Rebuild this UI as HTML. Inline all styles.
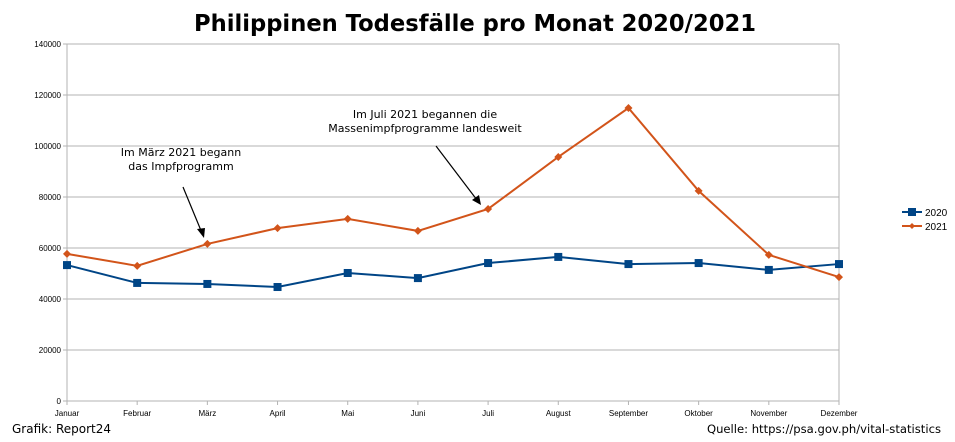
<!DOCTYPE html>
<html><head><meta charset="utf-8"><style>
body{margin:0;background:#fff;width:955px;height:442px;overflow:hidden}
svg{display:block;font-family:"Liberation Sans",sans-serif}
.mono{font-family:"DejaVu Sans","Liberation Sans",sans-serif}
</style></head><body>
<svg id="c" width="955" height="442">
<text class="mono" x="475" y="31" text-anchor="middle" font-size="23" font-weight="bold" textLength="562" lengthAdjust="spacingAndGlyphs">Philippinen Todesfälle pro Monat 2020/2021</text>
<g id="grid"></g><g id="series"></g>
<g>
<text class="mono" x="181" y="156" text-anchor="middle" font-size="11">Im März 2021 begann</text>
<text class="mono" x="181" y="170" text-anchor="middle" font-size="11">das Impfprogramm</text>
<line x1="183" y1="187" x2="202" y2="233" stroke="#000" stroke-width="1.2"/>
<polygon points="204,238 197,229 205,228" fill="#000"/>
</g>
<g>
<text class="mono" x="425" y="118" text-anchor="middle" font-size="11">Im Juli 2021 begannen die</text>
<text class="mono" x="425" y="132" text-anchor="middle" font-size="11">Massenimpfprogramme landesweit</text>
<line x1="436" y1="146" x2="477" y2="200" stroke="#000" stroke-width="1.2"/>
<polygon points="481,205 472,200 479,195" fill="#000"/>
</g>
<g>
<line x1="902" y1="212" x2="922" y2="212" stroke="#004586" stroke-width="2"/>
<rect x="908" y="208" width="8" height="8" fill="#004586"/>
<text x="925" y="216" font-size="10">2020</text>
<line x1="902" y1="226" x2="922" y2="226" stroke="#d2541a" stroke-width="2"/>
<polygon points="912,223 915,226 912,229 909,226" fill="#d2541a"/>
<text x="925" y="230" font-size="10">2021</text>
</g>
<text class="mono" x="12" y="433" font-size="12">Grafik: Report24</text>
<text class="mono" x="941" y="433" text-anchor="end" font-size="11.6">Quelle: https://psa.gov.ph/vital-statistics</text>
</svg>
<script>
const months=["Januar","Februar","März","April","Mai","Juni","Juli","August","September","Oktober","November","Dezember"];
const yTicks=[0,20000,40000,60000,80000,100000,120000,140000];
const s2020=[53300,46300,45900,44700,50200,48200,54100,56500,53700,54100,51400,53700];
const s2021=[57700,53000,61600,67800,71400,66700,75300,95700,114900,82400,57300,48600];
const X0=67,X1=839,Y0=401,Y1=44,YMAX=140000;
const NS="http://www.w3.org/2000/svg";
function x(i){return X0+i*(X1-X0)/(months.length-1);}
function y(v){return Y0-v/YMAX*(Y0-Y1);}
function mk(t,a,p){const e=document.createElementNS(NS,t);for(const k in a)e.setAttribute(k,a[k]);p.appendChild(e);return e;}
const g=document.getElementById('grid'),s=document.getElementById('series');
yTicks.forEach(v=>{
const l=mk('line',{x1:X0-4,x2:X1,y1:y(v),y2:y(v),stroke:'#b3b3b3','stroke-width':1},g);


const t=mk('text',{x:X0-6,y:y(v)+3,'text-anchor':'end','font-size':8},g);t.textContent=v;


});
mk('line',{x1:X0,x2:X0,y1:Y1,y2:Y0,stroke:'#b3b3b3'},g);
mk('line',{x1:X1,x2:X1,y1:Y1,y2:Y0+4,stroke:'#b3b3b3'},g);
months.forEach((m,i)=>{
mk('line',{x1:x(i),x2:x(i),y1:Y0,y2:Y0+4,stroke:'#b3b3b3'},g);
const t=mk('text',{x:x(i),y:Y0+15,'text-anchor':'middle','font-size':8},g);t.textContent=m;


});
function line(d,c,name,sq){
const p=mk('polyline',{points:d.map((v,i)=>x(i)+','+y(v)).join(' '),fill:'none',stroke:c,'stroke-width':2},s);


d.forEach((v,i)=>{let m;
if(sq)m=mk('rect',{x:x(i)-4,y:y(v)-4,width:8,height:8,fill:c},s);
else m=mk('polygon',{points:`${x(i)},${y(v)-4} ${x(i)+4},${y(v)} ${x(i)},${y(v)+4} ${x(i)-4},${y(v)}`,fill:c},s);


});}
line(s2020,'#004586','series-2020',true);
line(s2021,'#d2541a','series-2021',false);
</script>
</body></html>
